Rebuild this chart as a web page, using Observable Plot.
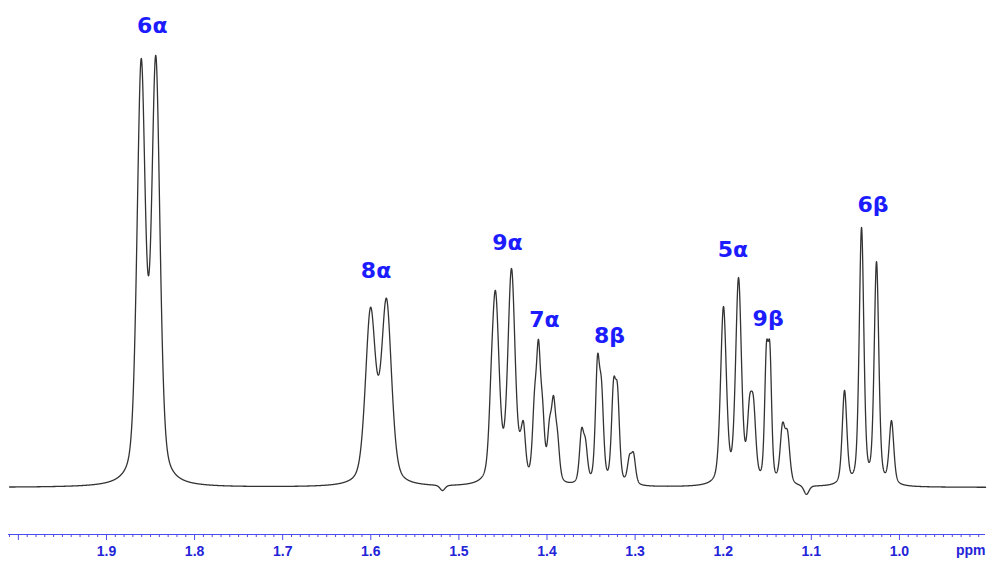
<!DOCTYPE html>
<html>
<head>
<meta charset="utf-8">
<script src="https://cdn.jsdelivr.net/npm/d3@7"></script>
<script src="https://cdn.jsdelivr.net/npm/@observablehq/plot@0.6"></script>
<style>
  html, body { margin: 0; padding: 0; background: #fff; }
  #chart svg { display: block; }
</style>
</head>
<body>
<div id="chart"></div>
<script>
// 1H NMR, aliphatic region: resolved lines of the multiplets.
// Chemical shift (ppm), height at that shift (relative, tallest line = 100),
// half width at half height (ppm). Negative heights are small baseline dips.
const lineShift = [
  1.8606, 1.8440,
  1.6003, 1.5822,
  1.5186,
  1.4635, 1.4585, 1.4403,
  1.4301, 1.4267,
  1.4142, 1.4097, 1.4051, 1.3972, 1.3926, 1.3881,
  1.3608, 1.3563, 1.3427, 1.3381, 1.3245, 1.3200, 1.3064, 1.3018,
  1.1997, 1.1826,
  1.1701, 1.1656, 1.1510, 1.1470, 1.1327, 1.1270,
  1.1055,
  1.0623, 1.0430, 1.0260, 1.0090
];
const lineHeight = [
  99.3, 100.0,
  41.7, 43.8,
  -0.7,
  28.0, 45.6, 50.7,
  13.2, 15.3,
  22.5, 34.3, 20.8, 16.0, 21.3, 13.2,
  13.7, 11.3, 30.6, 24.8, 25.0, 23.8, 7.6, 8.1,
  41.9, 48.6,
  21.1, 20.8, 33.3, 33.3, 15.0, 13.2,
  -1.6,
  22.5, 60.2, 52.3, 15.5
];
const lineHalfWidth = [
  0.0056, 0.0056,
  0.0068, 0.0068,
  0.0034,
  0.0030, 0.0049, 0.0049,
  0.0028, 0.0028,
  0.0028, 0.0028, 0.0028, 0.0028, 0.0028, 0.0028,
  0.0028, 0.0028, 0.0028, 0.0028, 0.0028, 0.0028, 0.0028, 0.0028,
  0.0039, 0.0039,
  0.0032, 0.0032, 0.0024, 0.0024, 0.0032, 0.0032,
  0.0034,
  0.0031, 0.0031, 0.0031, 0.0031
];

// Proton assignments written above the multiplets
const assignText   = ["6α", "8α", "9α", "7α", "8β", "5α", "9β", "6β"];
const assignShift  = [1.848, 1.594, 1.445, 1.403, 1.329, 1.189, 1.149, 1.030];
const assignHeight = [106.9, 50.2, 56.5, 38.7, 35.0, 54.9, 39.1, 65.3];

// Chemical shift axis
const majorTicks = [2.0, 1.9, 1.8, 1.7, 1.6, 1.5, 1.4, 1.3, 1.2, 1.1, 1.0];
const majorTickLabels = ["", "1.9", "1.8", "1.7", "1.6", "1.5", "1.4", "1.3", "1.2", "1.1", "1.0"];
const minorTicks = d3.range(90, 202).map(i => i / 100).filter(v => Math.abs(v * 10 - Math.round(v * 10)) > 1e-6);
const axisUnit = "ppm";
const shiftRange = [2.0112, 0.9023];
const intensityRange = [-10.88, 112.73];

// Pseudo-Voigt line shape (40 % Lorentzian), unit height at the centre
const eta = 0.4;
const shape = (d, w) => {
  const u = (d / w) ** 2;
  return eta / (1 + u) + (1 - eta) * Math.exp(-Math.LN2 * u);
};

// Find line amplitudes so the summed trace passes through each listed height
function solveAmplitudes() {
  const n = lineShift.length;
  const M = lineShift.map((si, i) => {
    const row = lineShift.map((sj, j) => shape(si - sj, lineHalfWidth[j]));
    row.push(lineHeight[i]);
    return row;
  });
  for (let c = 0; c < n; c++) {
    let p = c;
    for (let r = c + 1; r < n; r++) if (Math.abs(M[r][c]) > Math.abs(M[p][c])) p = r;
    [M[c], M[p]] = [M[p], M[c]];
    for (let r = 0; r < n; r++) {
      if (r === c) continue;
      const f = M[r][c] / M[c][c];
      for (let k = c; k <= n; k++) M[r][k] -= f * M[c][k];
    }
  }
  return M.map((row, i) => row[n] / row[i]);
}
const amplitude = solveAmplitudes();

const spectrum = d3.range(2.0100, 0.9020, -0.0002).map(ppm => ({
  ppm,
  intensity: d3.sum(lineShift, (s, j) => amplitude[j] * shape(ppm - s, lineHalfWidth[j]))
}));

const assignments = assignText.map((text, i) => ({text, ppm: assignShift[i], intensity: assignHeight[i]}));

const axisBlue = "#4b4bef";
const labelBlue = "#2323d8";
const assignBlue = "#1c1cff";

const chart = Plot.plot({
  width: 988,
  height: 563,
  marginLeft: 8,
  marginRight: 3,
  marginTop: 0,
  marginBottom: 29,
  style: {fontFamily: "'Liberation Sans', Arial, sans-serif", background: "#fff"},
  x: {domain: shiftRange, label: null},
  y: {domain: intensityRange, axis: null},
  marks: [
    Plot.ruleY([intensityRange[0]], {stroke: axisBlue, strokeWidth: 1.2}),
    Plot.axisX(minorTicks, {tickSize: 3, tickFormat: () => "", stroke: axisBlue, label: null}),
    Plot.axisX(majorTicks, {
      tickSize: 6,
      tickPadding: 6,
      tickFormat: d => majorTickLabels[majorTicks.indexOf(d)],
      stroke: axisBlue,
      fill: labelBlue,
      fontSize: 14,
      fontWeight: "bold",
      label: null
    }),
    Plot.text([axisUnit], {
      frameAnchor: "bottom-right",
      dy: 20,
      text: d => d,
      textAnchor: "end",
      fill: labelBlue,
      fontSize: 14,
      fontWeight: "bold"
    }),
    Plot.line(spectrum, {x: "ppm", y: "intensity", stroke: "#333", strokeWidth: 1.3}),
    Plot.text(assignments, {
      x: "ppm",
      y: "intensity",
      text: "text",
      fill: assignBlue,
      fontSize: 22,
      fontWeight: "bold",
      fontFamily: "'DejaVu Sans', sans-serif"
    })
  ]
});

document.getElementById("chart").append(chart);
</script>
</body>
</html>
